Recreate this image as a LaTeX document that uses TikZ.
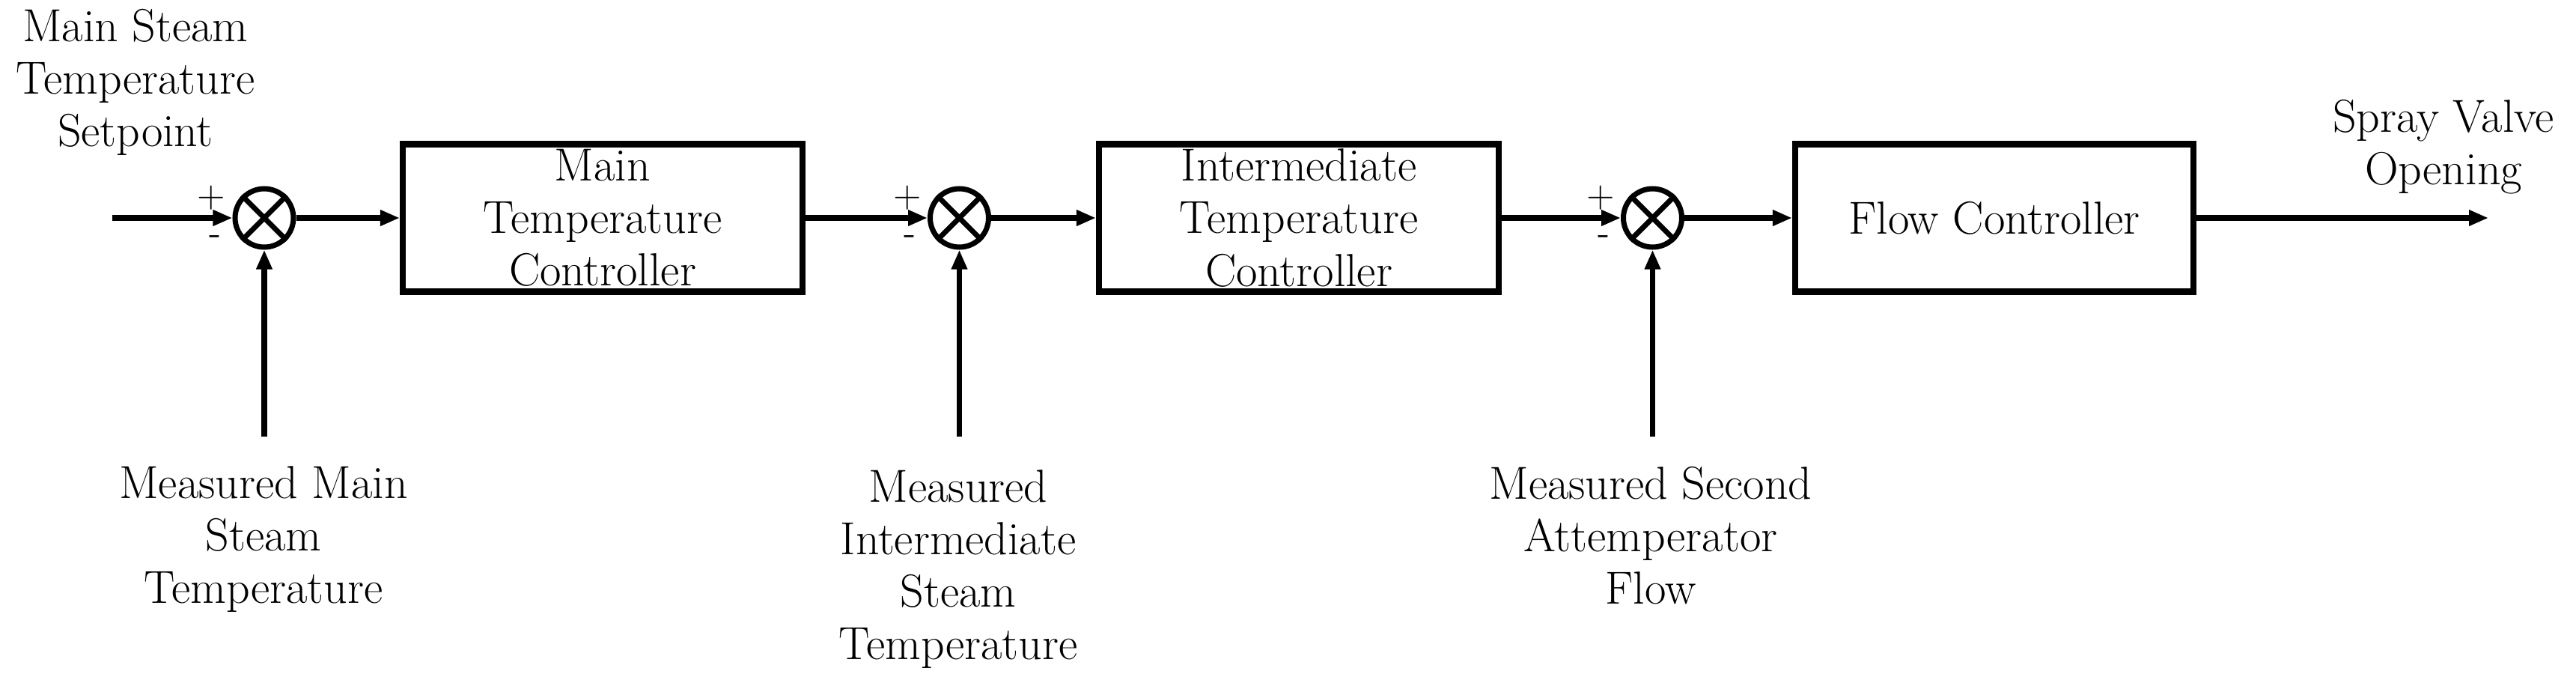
\documentclass[tikz,border=0pt]{standalone}
\usetikzlibrary{arrows.meta}
\begin{document}
\begin{tikzpicture}[
  x=1cm,y=1cm,
  line width=2pt,
  >={Triangle[length=0.26cm,width=0.2cm]},
  every node/.style={font=\fontsize{17.6}{20}\selectfont},
  blockbox/.style={draw,line width=2.3pt,minimum width=5.34cm,minimum height=1.97cm,align=center,inner sep=0pt},
  sumnode/.style={draw,circle,line width=2pt,minimum size=0.78cm,inner sep=0pt},
  lbl/.style={align=center,inner sep=0pt},
  sgn/.style={inner sep=0pt,font=\fontsize{14}{16}\selectfont}
]
\useasboundingbox (0,0) rectangle (34.41,9.11);

% summing junctions
\node[sumnode] (s1) at (3.53,6.20) {};
\node[sumnode] (s2) at (12.815,6.20) {};
\node[sumnode] (s3) at (22.075,6.20) {};
\foreach \s in {s1,s2,s3}{
  \draw (\s.north west) -- (\s.south east) (\s.north east) -- (\s.south west);
}

% blocks
\node[blockbox] (b1) at (8.05,6.20) {Main\\Temperature\\Controller};
\node[blockbox] (b2) at (17.35,6.20) {Intermediate\\Temperature\\Controller};
\node[blockbox,minimum width=5.32cm] (b3) at (26.64,6.20) {Flow Controller};

% signs
\node[sgn] (p1) at (2.82,6.47) {+};
\node[sgn] (n1) at (2.88,5.90) {-};
\node[sgn] (p2) at (12.12,6.47) {+};
\node[sgn] (n2) at (12.16,5.90) {-};
\node[sgn] (p3) at (21.38,6.47) {+};
\node[sgn] (n3) at (21.42,5.90) {-};

% labels
\node[lbl] (lsp) at (1.81,8.01) {Main Steam\\Temperature\\Setpoint};
\node[lbl] (lm1) at (3.52,1.91) {Measured Main\\Steam\\Temperature};
\node[lbl] (lm2) at (12.80,1.51) {Measured\\Intermediate\\Steam\\Temperature};
\node[lbl] (lm3) at (22.05,1.96) {Measured Second\\Attemperator\\Flow};
\node[lbl] (lout) at (32.64,7.15) {Spray Valve\\Opening};

% free ends
\coordinate (in) at (1.50,6.20);
\coordinate (out) at (33.24,6.20);
\coordinate (m1) at (3.53,3.28);
\coordinate (m2) at (12.815,3.28);
\coordinate (m3) at (22.075,3.28);

% connectors
\draw[->] (in) -- (s1);
\draw[->] (s1) -- (b1);
\draw[->] (b1) -- (s2);
\draw[->] (s2) -- (b2);
\draw[->] (b2) -- (s3);
\draw[->] (s3) -- (b3);
\draw[->] (b3) -- (out);
\draw[->] (m1) -- (s1);
\draw[->] (m2) -- (s2);
\draw[->] (m3) -- (s3);
\end{tikzpicture}
\end{document}
